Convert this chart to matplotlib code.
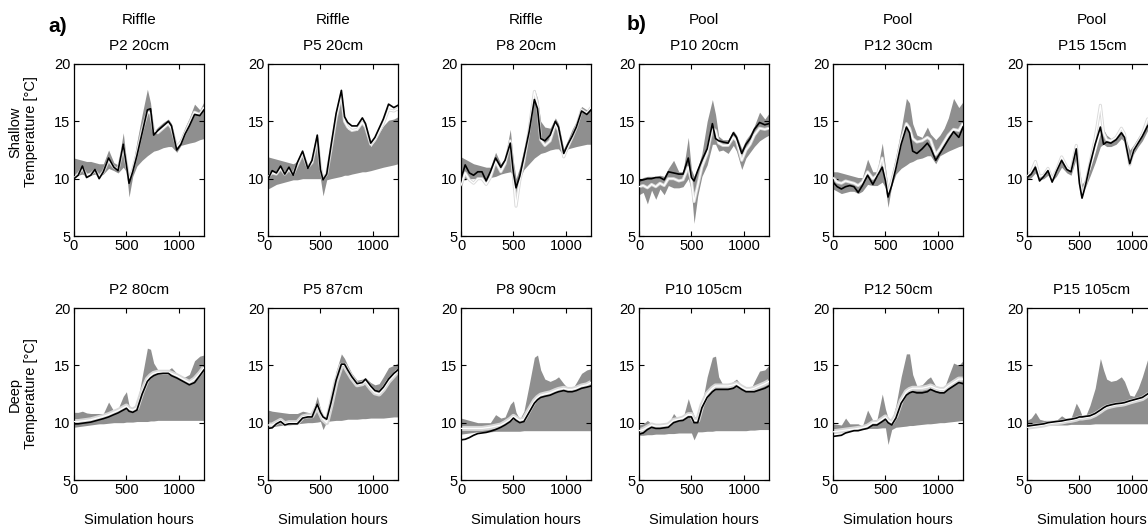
import matplotlib
matplotlib.use("Agg")
import matplotlib.pyplot as plt

plt.rcParams['font.family'] = ['Liberation Sans', 'DejaVu Sans']

# Simulation hours at which the series are sampled
hours = [0, 40, 80, 120, 160, 200, 240, 280, 330, 380, 420, 470, 500, 525, 560,
         600, 650, 700, 730, 760, 800, 850, 900, 930, 980, 1020, 1060, 1100, 1150, 1200, 1240]

# ---- Shallow piezometers: observed, best simulation, ensemble min / max ----
p2s_obs = [10.0, 10.3, 11.1, 10.1, 10.3, 10.8, 10.0, 10.6, 11.8, 11.0, 10.7, 13.0, 11.2, 9.6, 10.6, 12.0, 14.0, 16.0, 16.1, 13.8, 14.2, 14.6, 15.0, 14.6, 12.5, 13.0, 13.9, 14.6, 15.6, 15.5, 16.0]
p2s_sim = [10.1, 10.4, 10.9, 10.3, 10.4, 10.7, 10.2, 10.6, 11.6, 11.0, 10.8, 12.8, 11.3, 9.9, 10.8, 12.2, 14.2, 15.8, 15.7, 14.2, 14.0, 14.4, 14.8, 14.4, 12.8, 13.2, 14.0, 14.8, 15.8, 15.6, 16.2]
p2s_lo = [10.3, 10.3, 10.4, 10.2, 10.3, 10.4, 10.2, 10.4, 10.9, 10.7, 10.5, 11.0, 10.6, 8.4, 10.2, 11.1, 11.6, 12.0, 12.2, 12.4, 12.5, 12.7, 12.8, 12.8, 12.3, 12.9, 13.0, 13.1, 13.2, 13.4, 13.5]
p2s_hi = [11.8, 11.7, 11.6, 11.5, 11.5, 11.4, 11.3, 11.3, 12.5, 11.4, 11.2, 14.0, 11.6, 10.0, 11.2, 13.2, 15.6, 17.8, 16.6, 14.1, 14.5, 14.9, 15.2, 14.8, 12.9, 13.6, 14.5, 15.3, 16.5, 16.0, 16.7]

p5s_obs = [10.0, 10.7, 10.5, 11.1, 10.4, 11.0, 10.3, 11.4, 12.4, 10.9, 11.6, 13.8, 10.8, 9.9, 10.4, 12.8, 15.7, 17.7, 15.4, 14.9, 14.6, 14.6, 15.3, 14.8, 13.1, 13.6, 14.4, 15.2, 16.5, 16.2, 16.4]
p5s_sim = [10.2, 10.5, 10.4, 10.9, 10.4, 10.8, 10.4, 11.2, 12.2, 11.0, 11.4, 13.5, 11.0, 10.0, 10.4, 12.5, 15.3, 17.3, 15.0, 14.5, 14.2, 14.3, 14.9, 14.5, 13.0, 13.4, 14.1, 14.8, 16.0, 15.9, 16.1]
p5s_lo = [9.1, 9.3, 9.5, 9.6, 9.7, 9.8, 9.9, 9.9, 10.0, 10.0, 10.0, 10.0, 10.0, 8.5, 9.9, 10.0, 10.1, 10.2, 10.3, 10.3, 10.4, 10.5, 10.6, 10.6, 10.7, 10.8, 10.9, 11.0, 11.1, 11.2, 11.3]
p5s_hi = [11.9, 11.8, 11.7, 11.6, 11.5, 11.4, 11.3, 11.5, 12.3, 11.2, 11.5, 13.6, 11.0, 10.0, 10.6, 12.6, 15.4, 17.3, 15.0, 14.3, 14.2, 14.2, 14.9, 14.4, 12.8, 13.3, 14.0, 14.6, 15.1, 15.2, 15.4]

p8s_obs = [10.0, 11.2, 10.5, 10.3, 10.6, 10.6, 9.8, 10.6, 11.8, 11.0, 11.6, 13.1, 10.5, 9.2, 10.2, 11.9, 14.1, 16.9, 16.1, 13.5, 13.3, 13.8, 15.0, 14.5, 12.2, 13.0, 13.7, 14.5, 15.9, 15.6, 16.0]
p8s_sim = [9.4, 10.5, 9.9, 9.6, 10.0, 10.0, 9.5, 10.1, 11.5, 10.6, 11.3, 13.3, 10.2, 7.6, 9.8, 11.5, 14.3, 17.6, 16.5, 13.4, 12.9, 13.3, 14.8, 14.2, 11.9, 12.8, 13.6, 14.5, 16.0, 15.7, 16.2]
p8s_lo = [9.9, 9.9, 10.0, 10.0, 10.0, 10.0, 10.0, 10.1, 10.2, 10.4, 10.5, 10.6, 10.3, 8.5, 10.0, 10.8, 11.3, 11.8, 12.0, 12.2, 12.3, 12.5, 12.6, 12.6, 12.0, 12.6, 12.7, 12.8, 12.9, 13.0, 13.0]
p8s_hi = [11.9, 11.7, 11.5, 11.3, 11.2, 11.1, 11.0, 11.0, 12.3, 11.3, 11.8, 14.3, 11.5, 10.0, 11.0, 12.6, 14.8, 17.8, 17.0, 15.0, 14.5, 14.4, 15.3, 14.8, 12.6, 13.4, 14.3, 15.0, 16.3, 16.0, 16.2]

p10s_obs = [9.8, 9.9, 10.0, 10.0, 10.1, 10.1, 9.9, 10.6, 10.5, 10.4, 10.4, 11.8, 10.1, 9.8, 10.7, 11.6, 12.6, 14.8, 13.5, 13.3, 13.2, 13.1, 14.0, 13.6, 12.2, 13.0, 13.5, 14.3, 14.9, 14.7, 14.8]
p10s_sim = [9.3, 9.4, 9.2, 9.5, 9.3, 9.6, 9.4, 10.0, 10.0, 9.8, 9.9, 11.0, 9.8, 8.0, 9.4, 11.0, 12.2, 14.4, 14.2, 13.1, 12.9, 12.9, 13.6, 13.3, 11.6, 12.5, 13.0, 13.8, 14.4, 14.3, 14.4]
p10s_lo = [8.6, 8.8, 7.8, 9.0, 8.2, 9.1, 8.6, 9.4, 9.2, 9.2, 9.3, 10.0, 9.0, 6.1, 8.5, 10.2, 11.2, 13.0, 13.0, 12.4, 12.5, 12.2, 12.9, 12.4, 10.8, 11.8, 12.3, 12.8, 13.3, 13.6, 13.8]
p10s_hi = [9.9, 10.1, 10.2, 10.2, 10.2, 10.3, 10.2, 10.9, 11.6, 10.6, 10.6, 13.6, 10.8, 10.2, 10.9, 12.2, 15.0, 16.9, 15.6, 13.7, 13.4, 13.4, 14.2, 13.8, 12.6, 13.4, 13.9, 14.6, 15.8, 15.2, 15.7]

p12s_obs = [9.7, 9.3, 9.1, 9.3, 9.4, 9.3, 8.8, 9.4, 10.3, 9.5, 10.2, 11.0, 9.8, 8.4, 9.4, 10.9, 13.0, 14.5, 14.0, 12.4, 12.2, 12.6, 13.1, 12.7, 11.6, 12.2, 12.8, 13.4, 14.1, 13.6, 14.5]
p12s_sim = [10.1, 9.7, 9.6, 9.8, 9.7, 9.6, 9.4, 9.7, 10.6, 10.0, 10.3, 11.8, 10.2, 8.8, 9.8, 11.2, 13.3, 14.8, 14.4, 13.5, 13.2, 13.3, 13.6, 13.4, 12.1, 12.6, 13.2, 13.8, 14.3, 14.2, 14.8]
p12s_lo = [9.1, 8.9, 8.7, 8.8, 8.9, 8.9, 8.7, 8.9, 9.5, 9.4, 9.4, 9.7, 9.2, 7.5, 9.4, 10.4, 10.9, 11.2, 11.4, 11.5, 11.7, 11.8, 12.0, 12.0, 11.3, 12.0, 12.2, 12.4, 12.6, 12.8, 12.9]
p12s_hi = [10.6, 10.6, 10.5, 10.4, 10.3, 10.2, 10.1, 10.1, 11.7, 10.6, 10.6, 13.1, 11.0, 9.2, 10.4, 12.0, 14.3, 17.0, 16.6, 14.8, 13.8, 13.6, 14.5, 13.9, 13.4, 13.8, 14.4, 15.3, 17.0, 16.2, 16.7]

p15s_obs = [10.1, 10.4, 11.0, 9.8, 10.2, 10.7, 9.7, 10.6, 11.6, 10.8, 10.6, 12.6, 9.6, 8.3, 9.5, 11.2, 13.0, 14.5, 13.0, 13.2, 13.1, 13.4, 14.0, 13.6, 11.3, 12.5, 13.1, 13.7, 14.6, 15.0, 15.3]
p15s_sim = [10.2, 10.6, 11.5, 10.2, 10.3, 10.9, 10.0, 10.7, 11.9, 11.0, 10.7, 12.9, 10.3, 8.6, 9.6, 11.3, 13.5, 16.4, 14.0, 13.4, 13.3, 13.6, 14.4, 13.9, 11.2, 12.6, 13.2, 13.9, 15.2, 15.3, 15.6]
p15s_lo = [9.9, 10.1, 10.5, 9.9, 10.0, 10.3, 9.8, 10.2, 11.0, 10.5, 10.3, 11.8, 10.0, 8.8, 9.3, 10.2, 11.4, 12.8, 13.0, 12.8, 12.8, 13.0, 13.5, 13.2, 11.5, 12.2, 12.8, 13.3, 14.2, 14.6, 14.9]
p15s_hi = [10.4, 10.8, 11.4, 10.3, 10.5, 10.8, 10.2, 10.7, 11.6, 11.0, 10.8, 12.6, 10.7, 9.5, 10.0, 10.8, 12.3, 14.0, 14.3, 13.8, 13.5, 13.6, 14.2, 13.8, 12.5, 13.0, 13.6, 14.2, 15.0, 15.2, 15.5]

# ---- Deep piezometers ----
p2d_obs = [9.9, 9.9, 9.95, 10.0, 10.05, 10.15, 10.25, 10.35, 10.5, 10.7, 10.85, 11.1, 11.25, 11.0, 10.9, 11.1, 12.5, 13.6, 13.9, 14.1, 14.25, 14.3, 14.3, 14.1, 13.9, 13.7, 13.5, 13.3, 13.5, 14.1, 14.6]
p2d_sim = [10.1, 10.1, 10.15, 10.2, 10.25, 10.35, 10.45, 10.55, 10.7, 10.9, 11.05, 11.3, 11.45, 11.2, 11.1, 11.3, 12.7, 13.8, 14.1, 14.3, 14.4, 14.4, 14.4, 14.3, 14.1, 13.9, 13.7, 13.5, 13.8, 14.3, 14.8]
p2d_lo = [9.6, 9.65, 9.7, 9.75, 9.8, 9.85, 9.9, 9.9, 9.95, 10.0, 10.0, 10.0, 10.05, 10.05, 10.05, 10.1, 10.1, 10.1, 10.15, 10.15, 10.2, 10.2, 10.2, 10.2, 10.2, 10.2, 10.2, 10.2, 10.2, 10.2, 10.2]
p2d_hi = [10.9, 10.9, 11.0, 10.85, 10.8, 10.8, 10.8, 10.8, 11.8, 11.0, 11.2, 12.3, 12.7, 11.5, 11.2, 11.6, 14.0, 16.5, 16.4, 15.2, 14.6, 14.3, 14.6, 14.8, 14.3, 14.0, 14.0, 14.2, 15.4, 15.8, 15.9]

p5d_obs = [9.5, 9.55, 9.9, 10.1, 9.8, 9.9, 9.9, 9.9, 10.4, 10.5, 10.5, 11.6, 10.9, 10.5, 10.3, 11.7, 13.7, 15.1, 15.1, 14.6, 14.0, 13.4, 13.5, 13.8, 13.2, 12.8, 12.7, 13.1, 13.8, 14.3, 14.6]
p5d_sim = [9.8, 9.8, 10.0, 10.2, 9.9, 10.0, 10.0, 10.0, 10.5, 10.6, 10.6, 11.4, 10.8, 10.3, 10.0, 11.5, 13.6, 15.0, 15.0, 14.5, 13.9, 13.3, 13.4, 13.6, 13.0, 12.6, 12.5, 12.9, 13.6, 14.1, 14.5]
p5d_lo = [9.6, 9.65, 9.7, 9.75, 9.8, 9.8, 9.85, 9.9, 9.95, 10.0, 10.0, 10.05, 10.1, 9.4, 10.1, 10.15, 10.2, 10.2, 10.25, 10.3, 10.3, 10.3, 10.35, 10.35, 10.4, 10.4, 10.4, 10.4, 10.45, 10.5, 10.5]
p5d_hi = [11.1, 11.0, 10.95, 10.9, 10.85, 10.8, 10.8, 10.8, 11.0, 10.9, 10.8, 12.3, 11.2, 10.6, 10.4, 12.0, 14.5, 16.0, 15.6, 15.0, 14.3, 13.7, 13.8, 13.9, 13.5, 13.3, 13.4, 14.0, 14.8, 15.0, 15.2]

p8d_obs = [8.5, 8.55, 8.7, 8.9, 9.05, 9.1, 9.15, 9.25, 9.4, 9.6, 9.8, 10.1, 10.4, 10.2, 10.0, 10.1, 10.9, 11.7, 12.0, 12.2, 12.3, 12.4, 12.6, 12.7, 12.8, 12.7, 12.7, 12.8, 13.0, 13.1, 13.2]
p8d_sim = [9.5, 9.5, 9.5, 9.5, 9.5, 9.5, 9.55, 9.6, 9.7, 9.8, 10.0, 10.3, 10.55, 10.4, 10.2, 10.3, 11.1, 11.9, 12.2, 12.4, 12.5, 12.6, 12.8, 12.9, 13.0, 12.9, 12.9, 13.0, 13.2, 13.3, 13.5]
p8d_lo = [9.0, 9.05, 9.1, 9.15, 9.2, 9.2, 9.2, 9.2, 9.25, 9.25, 9.25, 9.25, 9.25, 9.25, 9.25, 9.3, 9.3, 9.3, 9.3, 9.3, 9.3, 9.3, 9.3, 9.3, 9.3, 9.3, 9.3, 9.3, 9.3, 9.3, 9.3]
p8d_hi = [10.4, 10.3, 10.2, 10.1, 10.0, 10.0, 10.0, 10.0, 10.7, 10.4, 10.5, 11.6, 11.9, 10.9, 10.3, 11.0, 13.3, 15.7, 15.9, 14.6, 13.8, 13.6, 13.8, 14.0, 13.4, 13.0, 12.9, 13.5, 14.3, 14.6, 14.7]

p10d_obs = [9.0, 9.1, 9.4, 9.6, 9.5, 9.5, 9.55, 9.6, 10.0, 10.15, 10.2, 10.5, 10.5, 10.0, 10.0, 11.3, 12.2, 12.7, 12.9, 12.9, 12.9, 12.9, 13.0, 13.2, 12.9, 12.7, 12.7, 12.7, 12.85, 13.0, 13.2]
p10d_sim = [9.3, 9.4, 9.6, 9.8, 9.7, 9.7, 9.75, 9.8, 10.2, 10.3, 10.4, 10.7, 10.7, 10.2, 10.2, 11.5, 12.5, 13.0, 13.2, 13.2, 13.2, 13.2, 13.3, 13.4, 13.1, 12.9, 12.9, 13.0, 13.2, 13.4, 13.6]
p10d_lo = [8.9, 8.9, 8.95, 8.95, 9.0, 9.0, 9.0, 9.05, 9.05, 9.1, 9.1, 9.1, 9.1, 8.5, 9.2, 9.2, 9.25, 9.25, 9.3, 9.3, 9.3, 9.3, 9.3, 9.3, 9.3, 9.3, 9.35, 9.35, 9.4, 9.4, 9.4]
p10d_hi = [9.8, 9.9, 10.2, 9.9, 9.8, 9.8, 9.8, 9.9, 10.8, 10.2, 10.4, 12.1, 11.2, 10.6, 10.2, 11.6, 14.0, 15.7, 15.8, 14.0, 13.3, 13.3, 13.6, 13.8, 13.2, 12.9, 12.8, 13.6, 14.5, 14.6, 15.0]

p12d_obs = [8.8, 8.85, 8.9, 9.1, 9.2, 9.3, 9.3, 9.4, 9.5, 9.8, 9.8, 10.1, 10.3, 10.0, 9.8, 10.4, 11.7, 12.4, 12.6, 12.7, 12.6, 12.6, 12.7, 12.9, 12.7, 12.6, 12.6, 12.9, 13.2, 13.5, 13.4]
p12d_sim = [9.2, 9.25, 9.3, 9.35, 9.4, 9.45, 9.5, 9.55, 9.7, 10.0, 10.0, 10.3, 10.5, 10.2, 10.0, 10.6, 11.9, 12.7, 12.9, 13.0, 13.0, 13.0, 13.1, 13.2, 13.0, 12.9, 12.9, 13.2, 13.5, 13.8, 13.8]
p12d_lo = [9.3, 9.3, 9.35, 9.35, 9.4, 9.4, 9.4, 9.45, 9.5, 9.5, 9.5, 9.55, 9.55, 8.1, 9.4, 9.6, 9.65, 9.7, 9.75, 9.75, 9.8, 9.85, 9.9, 9.9, 9.95, 10.0, 10.0, 10.05, 10.1, 10.15, 10.2]
p12d_hi = [9.9, 9.85, 9.8, 10.4, 9.9, 9.9, 9.9, 9.7, 11.1, 10.2, 10.3, 12.5, 11.2, 10.4, 10.2, 11.5, 14.0, 16.0, 16.0, 14.2, 13.2, 13.3, 13.8, 14.0, 13.2, 12.8, 13.0, 14.0, 15.2, 15.0, 15.4]

p15d_obs = [9.7, 9.75, 9.8, 9.85, 9.9, 10.0, 10.05, 10.1, 10.15, 10.25, 10.3, 10.4, 10.5, 10.5, 10.55, 10.6, 10.8, 11.1, 11.3, 11.45, 11.55, 11.65, 11.7, 11.75, 11.9, 12.0, 12.1, 12.2, 12.5, 12.9, 13.2]
p15d_sim = [9.6, 9.65, 9.7, 9.75, 9.8, 9.9, 9.95, 10.0, 10.05, 10.15, 10.2, 10.3, 10.4, 10.4, 10.45, 10.5, 10.7, 11.0, 11.2, 11.35, 11.45, 11.55, 11.6, 11.65, 11.8, 11.9, 12.0, 12.1, 12.4, 12.8, 13.1]
p15d_lo = [9.7, 9.7, 9.7, 9.75, 9.75, 9.75, 9.8, 9.8, 9.8, 9.8, 9.85, 9.85, 9.85, 9.85, 9.85, 9.85, 9.9, 9.9, 9.9, 9.9, 9.9, 9.9, 9.9, 9.9, 9.9, 9.9, 9.9, 9.9, 9.9, 9.9, 9.9]
p15d_hi = [10.2, 10.4, 10.9, 10.3, 10.2, 10.2, 10.2, 10.2, 10.6, 10.3, 10.4, 11.7, 11.2, 10.6, 10.6, 11.5, 13.0, 15.6, 14.6, 13.8, 13.6, 13.7, 14.0, 13.6, 12.4, 12.3, 13.0, 14.0, 15.5, 15.5, 15.6]

# Panel titles
reach_labels = ["Riffle", "Riffle", "Riffle", "Pool", "Pool", "Pool"]
shallow_titles = ["P2 20cm", "P5 20cm", "P8 20cm", "P10 20cm", "P12 30cm", "P15 15cm"]
deep_titles = ["P2 80cm", "P5 87cm", "P8 90cm", "P10 105cm", "P12 50cm", "P15 105cm"]

shallow = [(p2s_obs, p2s_sim, p2s_lo, p2s_hi), (p5s_obs, p5s_sim, p5s_lo, p5s_hi),
           (p8s_obs, p8s_sim, p8s_lo, p8s_hi), (p10s_obs, p10s_sim, p10s_lo, p10s_hi),
           (p12s_obs, p12s_sim, p12s_lo, p12s_hi), (p15s_obs, p15s_sim, p15s_lo, p15s_hi)]
deep = [(p2d_obs, p2d_sim, p2d_lo, p2d_hi), (p5d_obs, p5d_sim, p5d_lo, p5d_hi),
        (p8d_obs, p8d_sim, p8d_lo, p8d_hi), (p10d_obs, p10d_sim, p10d_lo, p10d_hi),
        (p12d_obs, p12d_sim, p12d_lo, p12d_hi), (p15d_obs, p15d_sim, p15d_lo, p15d_hi)]

W, H = 1148, 531
fig = plt.figure(figsize=(W / 100, H / 100), dpi=100)
fig.patch.set_facecolor("white")

col_left = [74, 268, 461, 639, 833, 1027]
ax_w = 130
row_top = [64, 308]
ax_h = 172

BAND = "#8f8f8f"
LIGHT = "#d9d9d9"


def draw_panel(ax, series, light_w):
    obs, sim, lo, hi = series
    ax.fill_between(hours, lo, hi, color=BAND, linewidth=0, zorder=1)
    ax.plot(hours, sim, color=LIGHT, lw=light_w, zorder=2, solid_capstyle="butt")
    ax.plot(hours, sim, color="white", lw=0.9, zorder=3)
    ax.plot(hours, obs, color="black", lw=1.2, zorder=4)
    ax.set_xlim(0, 1240)
    ax.set_ylim(5, 20)
    ax.set_xticks([0, 500, 1000])
    ax.set_yticks([5, 10, 15, 20])
    ax.tick_params(direction="in", top=True, right=True, length=3.5, width=0.8,
                   labelsize=10.5, pad=2.5)
    for s in ax.spines.values():
        s.set_linewidth(0.9)


for r, (rows, titles) in enumerate([(shallow, shallow_titles), (deep, deep_titles)]):
    top = row_top[r]
    for c in range(6):
        rect = [col_left[c] / W, 1 - (top + ax_h) / H, ax_w / W, ax_h / H]
        ax = fig.add_axes(rect)
        draw_panel(ax, rows[c], 2.2 if r == 0 else 3.6)
        cx = (col_left[c] + ax_w / 2) / W
        fig.text(cx, 1 - (top - 18) / H, titles[c], ha="center", va="center", fontsize=11)
        if r == 0:
            fig.text(cx, 1 - 20 / H, reach_labels[c], ha="center", va="center", fontsize=11)
        else:
            fig.text(cx, 1 - 520 / H, "Simulation hours", ha="center", va="center", fontsize=10.5)

fig.text(23 / W, 1 - 132 / H, "Shallow\nTemperature [°C]", rotation=90,
         ha="center", va="center", multialignment="center", fontsize=10.5)
fig.text(23 / W, 1 - 394 / H, "Deep\nTemperature [°C]", rotation=90,
         ha="center", va="center", multialignment="center", fontsize=10.5)

fig.text(58 / W, 1 - 26 / H, "a)", ha="center", va="center", fontsize=15, fontweight="bold")
fig.text(637 / W, 1 - 24 / H, "b)", ha="center", va="center", fontsize=15, fontweight="bold")

fig.savefig("out.png", dpi=100, facecolor="white")
